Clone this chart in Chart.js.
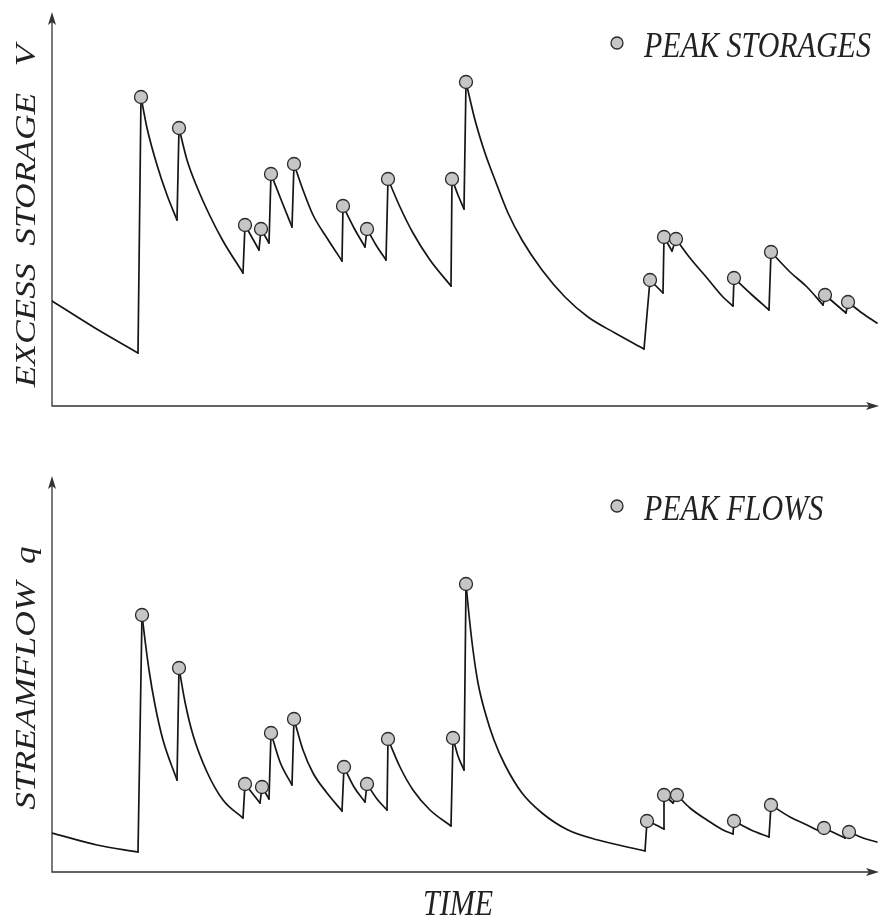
<!DOCTYPE html>
<html>
<head>
<meta charset="utf-8">
<script src="https://cdn.jsdelivr.net/npm/chart.js@4.4.1/dist/chart.umd.min.js"></script>
<style>
  html, body { margin: 0; padding: 0; background: #fff; }
  canvas { display: block; }
</style>
</head>
<body>
<canvas id="storageChart" width="880" height="440"></canvas>
<canvas id="flowChart" width="880" height="477"></canvas>
<script>
// values: time in arbitrary units, heights above the time axis
const storageTime = [0, 43, 86, 89, 95, 105, 115, 125, 127, 135, 145, 158, 171, 191, 193, 207, 209, 217, 219, 230, 240,
  242, 251, 261, 275, 290, 291, 302, 313, 315, 324, 334, 336, 348, 361, 378, 399, 400, 406, 412,
  414, 423, 433, 443, 456, 470, 490, 513, 536, 563, 592, 598, 605, 611, 612, 620, 624, 638, 655, 671, 681,
  682, 699, 717, 719, 738, 755, 771, 773, 794, 796, 810, 825];
const storageValue = [105, 78, 53, 309, 278, 241, 211, 186, 278, 246, 219, 190, 165, 133, 181, 156, 177, 163, 232, 204, 179,
  242, 216, 191, 168, 145, 200, 178, 159, 177, 161, 146, 227, 199, 173, 146, 120, 227, 211, 197,
  324, 286, 253, 226, 193, 166, 136, 109, 89, 73, 57, 126, 119, 113, 169, 155, 167, 148, 128, 109, 100,
  128, 112, 96, 154, 134, 119, 101, 111, 93, 104, 93, 83];

const flowTime = [0, 45, 86, 90, 93, 97, 103, 111, 125, 127, 133, 141, 155, 171, 191, 193, 208, 210, 217, 219, 228, 240,
  242, 251, 261, 275, 290, 292, 302, 313, 315, 325, 335, 336, 348, 361, 378, 399, 401, 406, 412,
  414, 417, 421, 426, 433, 442, 453, 470, 490, 516, 546, 593, 595, 604, 612, 612, 621, 625, 638, 655, 671, 681,
  682, 699, 717, 719, 738, 755, 771, 772, 793, 797, 811, 825];
const flowValue = [39, 27, 20, 257, 232, 202, 167, 132, 92, 204, 170, 137, 100, 72, 54, 88, 69, 85, 73, 139, 110, 87,
  153, 122, 99, 79, 61, 105, 85, 70, 88, 73, 62, 133, 105, 82, 62, 46, 134, 116, 102,
  288, 257, 222, 189, 160, 132, 107, 79, 59, 42, 32, 21, 51, 47, 43, 77, 69, 77, 64, 52, 42, 38,
  51, 42, 35, 67, 55, 47, 39, 44, 34, 40, 34, 30];

const timeMax = 827;
const storageMax = 394;
const flowMax = 396;

const ink = '#151515';
const markerFill = '#c6c6c6';
const labelFont = 'italic 30px "Liberation Serif", "Times New Roman", serif';

function lineSet(data, curved) {
  return {
    data: data,
    borderColor: ink,
    borderWidth: 1.7,
    borderCapStyle: 'round',
    pointRadius: 0,
    fill: false,
    tension: 0,
    cubicInterpolationMode: curved ? 'monotone' : 'default'
  };
}

// split the series into recession curves and the sudden rises between them
function buildDatasets(time, value) {
  const pts = time.map((t, i) => ({ x: t, y: value[i] }));
  const peaks = pts.filter((p, i) => i > 0 && p.y > pts[i - 1].y);
  const sets = [{
    data: peaks,
    showLine: false,
    pointRadius: 6.5,
    pointBackgroundColor: markerFill,
    pointBorderColor: '#2a2a2a',
    pointBorderWidth: 1.3
  }];
  let run = [pts[0]];
  for (let i = 1; i < pts.length; i++) {
    if (pts[i].y > pts[i - 1].y) {
      sets.push(lineSet(run, true));
      sets.push(lineSet([pts[i - 1], pts[i]], false));
      run = [pts[i]];
    } else {
      run.push(pts[i]);
    }
  }
  sets.push(lineSet(run, true));
  return sets;
}

function arrowHead(ctx, x, y, dx, dy) {
  const len = 13, half = 4, notch = 3;
  const px = -dy, py = dx;
  ctx.beginPath();
  ctx.moveTo(x, y);
  ctx.lineTo(x - dx * len + px * half, y - dy * len + py * half);
  ctx.lineTo(x - dx * (len - notch), y - dy * (len - notch));
  ctx.lineTo(x - dx * len - px * half, y - dy * len - py * half);
  ctx.closePath();
  ctx.fill();
}

function stretchedText(ctx, text, x, y, angle, sx, sy, align) {
  ctx.save();
  ctx.translate(x, y);
  ctx.rotate(angle);
  ctx.scale(sx, sy);
  ctx.textAlign = align;
  ctx.textBaseline = 'alphabetic';
  ctx.fillText(text, 0, 0);
  ctx.restore();
}

const sketchAxes = {
  id: 'sketchAxes',
  beforeDatasetsDraw(chart, args, opts) {
    const { ctx, chartArea: { left, right, top, bottom } } = chart;
    ctx.save();
    ctx.strokeStyle = '#333';
    ctx.fillStyle = '#333';
    ctx.lineWidth = 1.3;
    ctx.beginPath();
    ctx.moveTo(left, top + 6);
    ctx.lineTo(left, bottom);
    ctx.lineTo(right - 6, bottom);
    ctx.stroke();
    arrowHead(ctx, left, top, 0, -1);
    arrowHead(ctx, right, bottom, 1, 0);

    ctx.fillStyle = '#222';
    ctx.font = labelFont;
    stretchedText(ctx, opts.yTitle, 35, opts.yTitleCenter, -Math.PI / 2, 1.18, 1, 'center');
    if (opts.xTitle) {
      stretchedText(ctx, opts.xTitle, 458, chart.height - 2, 0, 1, 1.22, 'center');
    }

    // legend
    ctx.beginPath();
    ctx.arc(617, opts.legendY, 6, 0, Math.PI * 2);
    ctx.fillStyle = markerFill;
    ctx.fill();
    ctx.strokeStyle = '#2a2a2a';
    ctx.lineWidth = 1.3;
    ctx.stroke();
    ctx.fillStyle = '#222';
    stretchedText(ctx, opts.legend, 644, opts.legendY + 14, 0, 1, 1.22, 'left');
    ctx.restore();
  }
};

function makeChart(id, time, value, yMax, padding, labels) {
  return new Chart(document.getElementById(id), {
    type: 'line',
    data: { datasets: buildDatasets(time, value) },
    options: {
      responsive: false,
      animation: false,
      events: [],
      layout: { padding: padding, autoPadding: false },
      scales: {
        x: { type: 'linear', min: 0, max: timeMax, display: false },
        y: { type: 'linear', min: 0, max: yMax, display: false }
      },
      plugins: {
        legend: { display: false },
        tooltip: { enabled: false },
        sketchAxes: labels
      }
    },
    plugins: [sketchAxes]
  });
}

makeChart('storageChart', storageTime, storageValue, storageMax,
  { left: 52, right: 1, top: 12, bottom: 34 },
  { yTitle: 'EXCESS  STORAGE   V', yTitleCenter: 216, legend: 'PEAK STORAGES', legendY: 43 });

makeChart('flowChart', flowTime, flowValue, flowMax,
  { left: 52, right: 1, top: 36, bottom: 45 },
  { yTitle: 'STREAMFLOW  q', yTitleCenter: 238, legend: 'PEAK FLOWS', legendY: 66, xTitle: 'TIME' });
</script>
</body>
</html>
